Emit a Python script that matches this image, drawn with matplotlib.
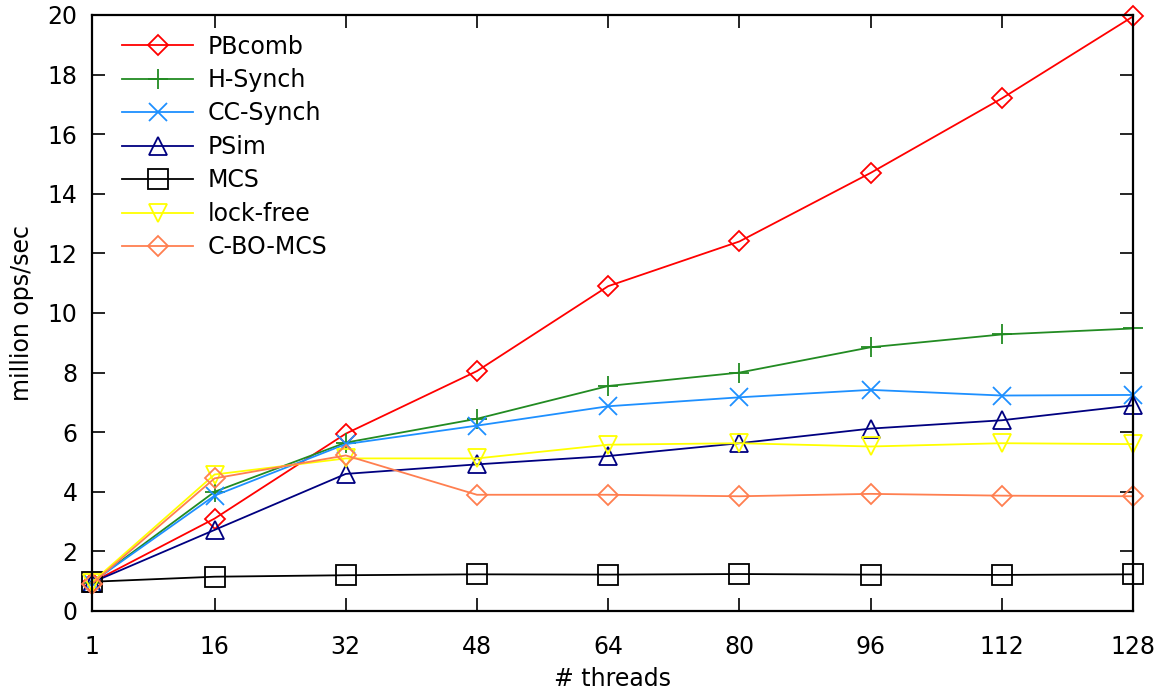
import matplotlib
matplotlib.use("Agg")
import matplotlib.pyplot as plt

# === Data ===
threads = [1, 16, 32, 48, 64, 80, 96, 112, 128]

pbcomb = [0.95, 3.1, 5.95, 8.05, 10.9, 12.4, 14.7, 17.2, 19.95]
hsynch = [0.95, 4.0, 5.65, 6.45, 7.55, 8.0, 8.85, 9.28, 9.48]
ccsynch = [0.95, 3.87, 5.6, 6.22, 6.87, 7.17, 7.42, 7.23, 7.25]
psim = [0.95, 2.72, 4.6, 4.92, 5.2, 5.63, 6.12, 6.4, 6.9]
mcs = [0.98, 1.15, 1.2, 1.23, 1.22, 1.24, 1.22, 1.21, 1.23]
lockfree = [0.95, 4.58, 5.12, 5.12, 5.58, 5.63, 5.52, 5.63, 5.6]
cbomcs = [0.9, 4.45, 5.22, 3.9, 3.9, 3.85, 3.93, 3.87, 3.85]

labels = ["PBcomb", "H-Synch", "CC-Synch", "PSim", "MCS", "lock-free", "C-BO-MCS"]
series = [pbcomb, hsynch, ccsynch, psim, mcs, lockfree, cbomcs]
colors = ["#ff0000", "#228b22", "#1e90ff", "#000080", "#000000", "#ffff00", "#ff7f50"]
markers = ["D", "+", "x", "^", "s", "v", "D"]
msizes = [10, 14, 13, 13, 14.5, 13, 10]

xticks = [1, 16, 32, 48, 64, 80, 96, 112, 128]
yticks = list(range(0, 21, 2))

plt.rcParams["font.family"] = "DejaVu Sans"
FS = 17

fig = plt.figure(figsize=(11.69, 6.91), dpi=100)
ax = fig.add_axes([0.0783, 0.1158, 0.8909, 0.8625])

for y, lab, c, m, s in zip(series, labels, colors, markers, msizes):
    ax.plot(threads, y, color=c, marker=m, markersize=s, markerfacecolor="none",
            markeredgecolor=c, markeredgewidth=1.3, linewidth=1.3, label=lab,
            clip_on=False)

ax.set_xlim(1, 128)
ax.set_ylim(0, 20)
ax.set_xticks(xticks)
ax.set_yticks(yticks)
ax.tick_params(direction="in", length=9.5, width=1.2, labelsize=FS,
               top=True, right=True)
ax.tick_params(axis="x", pad=17)
ax.tick_params(axis="y", pad=10)
for sp in ax.spines.values():
    sp.set_linewidth(1.6)

ax.set_xlabel("# threads", fontsize=FS)
ax.set_ylabel("million ops/sec", fontsize=FS)
ax.xaxis.set_label_coords(0.5, -0.094)
ax.yaxis.set_label_coords(-0.0552, 0.5)

ax.legend(loc="upper left", bbox_to_anchor=(0.0203, 0.983), frameon=False,
          fontsize=FS, handlelength=3.0, handletextpad=0.64,
          labelspacing=0.40, borderaxespad=0.0)

fig.savefig("out.png", dpi=100)
